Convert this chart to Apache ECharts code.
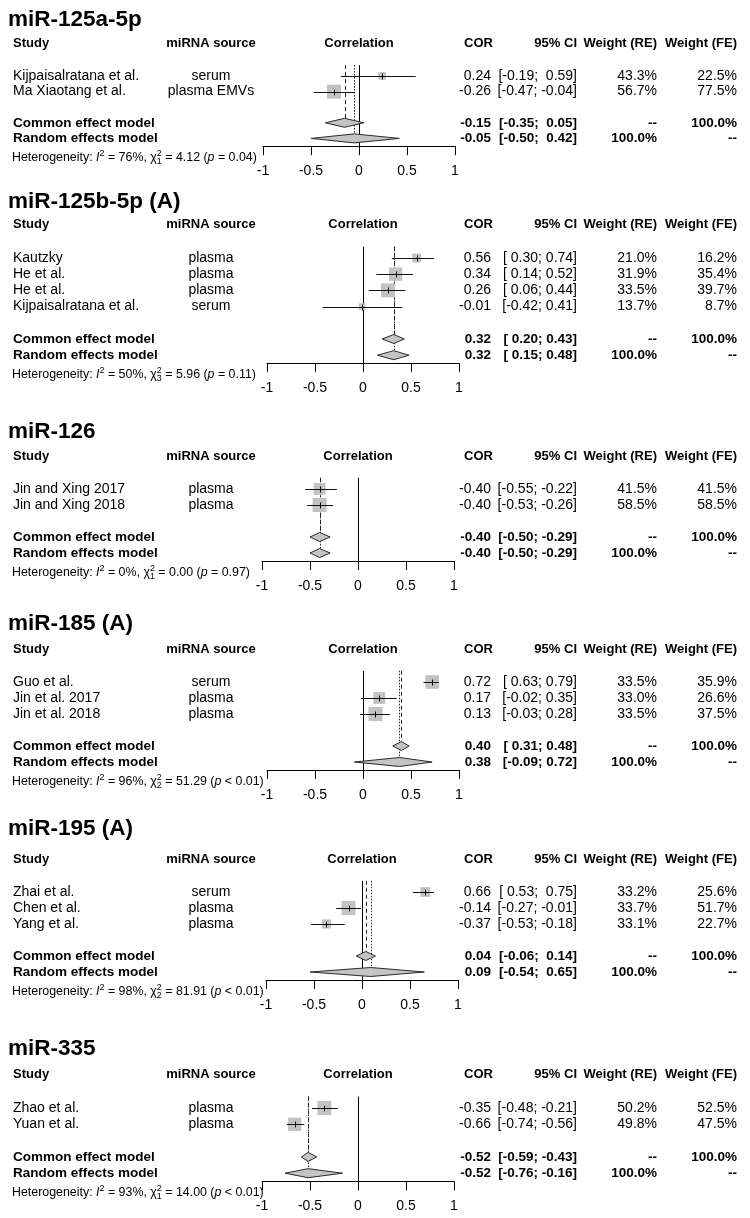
<!DOCTYPE html>
<html><head><meta charset="utf-8">
<script src="https://cdn.jsdelivr.net/npm/echarts@6/dist/echarts.min.js"></script>
<style>html,body{margin:0;padding:0;background:#fff}#c{width:750px;height:1218px}</style>
</head><body><div id="c"></div>
<script>
// ---------------- DATA ----------------
const panelTitles = ['miR-125a-5p', 'miR-125b-5p (A)', 'miR-126', 'miR-185 (A)', 'miR-195 (A)', 'miR-335'];
const studies = [
  ['Kijpaisalratana et al.', 'Ma Xiaotang et al.'],
  ['Kautzky', 'He et al.', 'He et al.', 'Kijpaisalratana et al.'],
  ['Jin and Xing 2017', 'Jin and Xing 2018'],
  ['Guo et al.', 'Jin et al. 2017', 'Jin et al. 2018'],
  ['Zhai et al.', 'Chen et al.', 'Yang et al.'],
  ['Zhao et al.', 'Yuan et al.']
];
const sources = [
  ['serum', 'plasma EMVs'],
  ['plasma', 'plasma', 'plasma', 'serum'],
  ['plasma', 'plasma'],
  ['serum', 'plasma', 'plasma'],
  ['serum', 'plasma', 'plasma'],
  ['plasma', 'plasma']
];
const cor    = [[0.24, -0.26], [0.56, 0.34, 0.26, -0.01], [-0.40, -0.40], [0.72, 0.17, 0.13], [0.66, -0.14, -0.37], [-0.35, -0.66]];
const ciLow  = [[-0.19, -0.47], [0.30, 0.14, 0.06, -0.42], [-0.55, -0.53], [0.63, -0.02, -0.03], [0.53, -0.27, -0.53], [-0.48, -0.74]];
const ciHigh = [[0.59, -0.04], [0.74, 0.52, 0.44, 0.41], [-0.22, -0.26], [0.79, 0.35, 0.28], [0.75, -0.01, -0.18], [-0.21, -0.56]];
const weightRE = [[43.3, 56.7], [21.0, 31.9, 33.5, 13.7], [41.5, 58.5], [33.5, 33.0, 33.5], [33.2, 33.7, 33.1], [50.2, 49.8]];
const weightFE = [[22.5, 77.5], [16.2, 35.4, 39.7, 8.7], [41.5, 58.5], [35.9, 26.6, 37.5], [25.6, 51.7, 22.7], [52.5, 47.5]];
// [estimate, lower, upper]
const commonEffect = [[-0.15, -0.35, 0.05], [0.32, 0.20, 0.43], [-0.40, -0.50, -0.29], [0.40, 0.31, 0.48], [0.04, -0.06, 0.14], [-0.52, -0.59, -0.43]];
const randomEffect = [[-0.05, -0.50, 0.42], [0.32, 0.15, 0.48], [-0.40, -0.50, -0.29], [0.38, -0.09, 0.72], [0.09, -0.54, 0.65], [-0.52, -0.76, -0.16]];
const hetI2 = [76, 50, 0, 96, 98, 93];
const hetDf = [1, 3, 1, 2, 2, 1];
const hetChi2 = [4.12, 5.96, 0.00, 51.29, 81.91, 14.00];
const hetP = ['= 0.04', '= 0.11', '= 0.97', '< 0.01', '< 0.01', '< 0.01'];
const xTickValues = [-1, -0.5, 0, 0.5, 1];

// ---------------- LAYOUT (pixels) ----------------
const layout = [
  { titleY: 18,   y0: 76,   s: 15.6, left: 263 },
  { titleY: 200,  y0: 258,  s: 16.2, left: 267 },
  { titleY: 430,  y0: 489,  s: 16.0, left: 262 },
  { titleY: 622,  y0: 682,  s: 16.0, left: 267 },
  { titleY: 827,  y0: 892,  s: 16.0, left: 266 },
  { titleY: 1047, y0: 1108, s: 16.3, left: 262 }
];
const AXW = 192, YMIN = -0.7;
const FONT = '"Liberation Sans", Arial, Helvetica, sans-serif';
const COL = { study: 13, source: 211, cor: 491, ci: 577, re: 657, fe: 737 };
const SQ = 14;

function f2(v) { return v.toFixed(2); }
function fmtCI(lo, hi, padLo, padHi) {
  const a = (padLo && lo >= 0 ? ' ' : '') + f2(lo);
  const b = (padHi && hi >= 0 ? ' ' : '') + f2(hi);
  return '[' + a + '; ' + b + ']';
}

const option = { animation: false, backgroundColor: '#fff', title: [], grid: [], xAxis: [], yAxis: [], series: [] };

panelTitles.forEach((title, p) => {
  const L = layout[p];
  const n = studies[p].length;
  const ymax = n + 2.5;
  const allLo = ciLow[p].concat([commonEffect[p][1], randomEffect[p][1]]);
  const allHi = ciHigh[p].concat([commonEffect[p][2], randomEffect[p][2]]);
  const padLo = allLo.some(v => v < 0), padHi = allHi.some(v => v < 0);
  const maxW = Math.max.apply(null, weightFE[p]);

  option.title.push({ text: title, left: 8, top: L.titleY - 10, padding: 0,
    textStyle: { fontSize: 22.5, fontWeight: 'bold', fontFamily: FONT, color: '#000' } });
  option.grid.push({ left: L.left, width: AXW, top: L.y0 + YMIN * L.s, height: (ymax - YMIN) * L.s,
    containLabel: false, outerBoundsMode: 'none' });
  option.xAxis.push({ gridIndex: p, type: 'value', min: -1, max: 1, interval: 0.5, position: 'bottom',
    axisLine: { show: true, onZero: false, lineStyle: { color: '#000', width: 1 } },
    axisTick: { show: true, inside: false, length: 9, lineStyle: { color: '#000' } },
    axisLabel: { fontSize: 14, color: '#000', fontFamily: FONT, margin: 18,
      customValues: xTickValues, formatter: v => String(v) },
    splitLine: { show: false } });
  option.yAxis.push({ gridIndex: p, type: 'value', inverse: true, min: YMIN, max: ymax, show: false });

  const items = [];
  items.push({ kind: 'vlines', row: 0 });
  items.push({ kind: 'header', row: -2.06 });
  for (let i = 0; i < n; i++) items.push({ kind: 'study', i: i, row: i });
  items.push({ kind: 'sum', which: 'common', row: n + 1 });
  items.push({ kind: 'sum', which: 'random', row: n + 2 });
  items.push({ kind: 'het', row: n + 3.2 });

  function txt(x, y, s, align, size, bold, z) {
    return { type: 'text', z2: z || 10, x: x, y: y,
      style: { text: s, fill: '#000', fontSize: size, fontFamily: FONT, fontWeight: bold ? 'bold' : 'normal',
        align: align, verticalAlign: 'middle' } };
  }

  option.series.push({
    type: 'custom', xAxisIndex: p, yAxisIndex: p, clip: false, silent: true,
    data: items.map(it => [0, it.row]),
    renderItem: function (params, api) {
      const it = items[params.dataIndex];
      const y = api.coord([0, it.row])[1];
      const yc = Math.round(y) + 0.5;
      const X = v => api.coord([v, it.row])[0];
      const ch = [];
      if (it.kind === 'vlines') {
        const yTop = api.coord([0, YMIN])[1];
        const yBot = api.coord([0, ymax])[1];
        const x0 = Math.round(X(0)) + 0.5;
        ch.push({ type: 'line', z2: 1, shape: { x1: x0, y1: yTop, x2: x0, y2: yBot }, style: { stroke: '#000', lineWidth: 1 } });
        const yc1 = api.coord([0, n + 1])[1] - 4.5;
        const xc = Math.round(X(commonEffect[p][0])) + 0.5;
        ch.push({ type: 'line', z2: 1, shape: { x1: xc, y1: yTop, x2: xc, y2: yc1 }, style: { stroke: '#222', lineWidth: 1, lineDash: [4, 3] } });
        const yr1 = api.coord([0, n + 2])[1] - 4.5;
        const xr = Math.round(X(randomEffect[p][0])) + 0.5;
        ch.push({ type: 'line', z2: 1, shape: { x1: xr, y1: yTop, x2: xr, y2: yr1 }, style: { stroke: '#222', lineWidth: 1, lineDash: [1.5, 1.5] } });
      } else if (it.kind === 'header') {
        ch.push(txt(COL.study, y, 'Study', 'left', 13, true));
        ch.push(txt(COL.source, y, 'miRNA source', 'center', 13, true));
        ch.push(txt(X(0), y, 'Correlation', 'center', 13, true));
        ch.push(txt(COL.cor + 2, y, 'COR', 'right', 13, true));
        ch.push(txt(COL.ci, y, '95% CI', 'right', 13, true));
        ch.push(txt(COL.re, y, 'Weight (RE)', 'right', 13, true));
        ch.push(txt(COL.fe, y, 'Weight (FE)', 'right', 13, true));
      } else if (it.kind === 'study') {
        const i = it.i;
        const xe = X(cor[p][i]), xl = X(ciLow[p][i]), xh = X(ciHigh[p][i]);
        const side = SQ * Math.sqrt(weightFE[p][i] / maxW);
        ch.push({ type: 'rect', z2: 3, shape: { x: xe - side / 2, y: y - side / 2, width: side, height: side }, style: { fill: '#c2c2c2' } });
        ch.push({ type: 'line', z2: 4, shape: { x1: xl, y1: yc, x2: xh, y2: yc }, style: { stroke: '#111', lineWidth: 1 } });
        const xt = Math.round(xe) + 0.5;
        ch.push({ type: 'line', z2: 4, shape: { x1: xt, y1: yc - 3, x2: xt, y2: yc + 3 }, style: { stroke: '#000', lineWidth: 1 } });
        ch.push(txt(COL.study, y, studies[p][i], 'left', 14, false));
        ch.push(txt(COL.source, y, sources[p][i], 'center', 14, false));
        ch.push(txt(COL.cor, y, f2(cor[p][i]), 'right', 14, false));
        ch.push(txt(COL.ci, y, fmtCI(ciLow[p][i], ciHigh[p][i], padLo, padHi), 'right', 14, false));
        ch.push(txt(COL.re, y, weightRE[p][i].toFixed(1) + '%', 'right', 14, false));
        ch.push(txt(COL.fe, y, weightFE[p][i].toFixed(1) + '%', 'right', 14, false));
      } else if (it.kind === 'sum') {
        const e = it.which === 'common' ? commonEffect[p] : randomEffect[p];
        const xe = X(e[0]), xl = X(e[1]), xh = X(e[2]);
        ch.push({ type: 'polygon', z2: 3, shape: { points: [[xl, y], [xe, y - 4.5], [xh, y], [xe, y + 4.5]] },
          style: { fill: '#c4c4c4', stroke: '#2a2a2a', lineWidth: 1 } });
        ch.push(txt(COL.study, y, it.which === 'common' ? 'Common effect model' : 'Random effects model', 'left', 13.5, true));
        ch.push(txt(COL.cor, y, f2(e[0]), 'right', 13.5, true));
        ch.push(txt(COL.ci, y, fmtCI(e[1], e[2], padLo, padHi), 'right', 13.5, true));
        ch.push(txt(COL.re, y, it.which === 'common' ? '--' : '100.0%', 'right', 13.5, true));
        ch.push(txt(COL.fe, y, it.which === 'common' ? '100.0%' : '--', 'right', 13.5, true));
      } else if (it.kind === 'het') {
        const s = 'Heterogeneity: {it|I}{sup|2} = ' + hetI2[p] + '%, χ{sz|2}{sub|' + hetDf[p] + '} = ' +
          hetChi2[p].toFixed(2) + ' ({it|p} ' + hetP[p] + ')';
        ch.push({ type: 'text', z2: 10, x: 12, y: y,
          style: { text: s, fill: '#000', fontSize: 12.4, fontFamily: FONT, lineHeight: 17, align: 'left', verticalAlign: 'middle',
            rich: {
              it: { fontSize: 12.4, fontStyle: 'italic', fontFamily: FONT, fill: '#000' },
              sup: { fontSize: 9, fontFamily: FONT, verticalAlign: 'top', fill: '#000' },
              sz: { fontSize: 9, fontFamily: FONT, verticalAlign: 'top', width: 0, fill: '#000' },
              sub: { fontSize: 9, fontFamily: FONT, verticalAlign: 'bottom', fill: '#000' }
            } } });
      }
      return { type: 'group', children: ch };
    }
  });
});

const chart = echarts.init(document.getElementById('c'), null, { renderer: 'canvas' });
chart.setOption(option);
</script>
</body></html>
